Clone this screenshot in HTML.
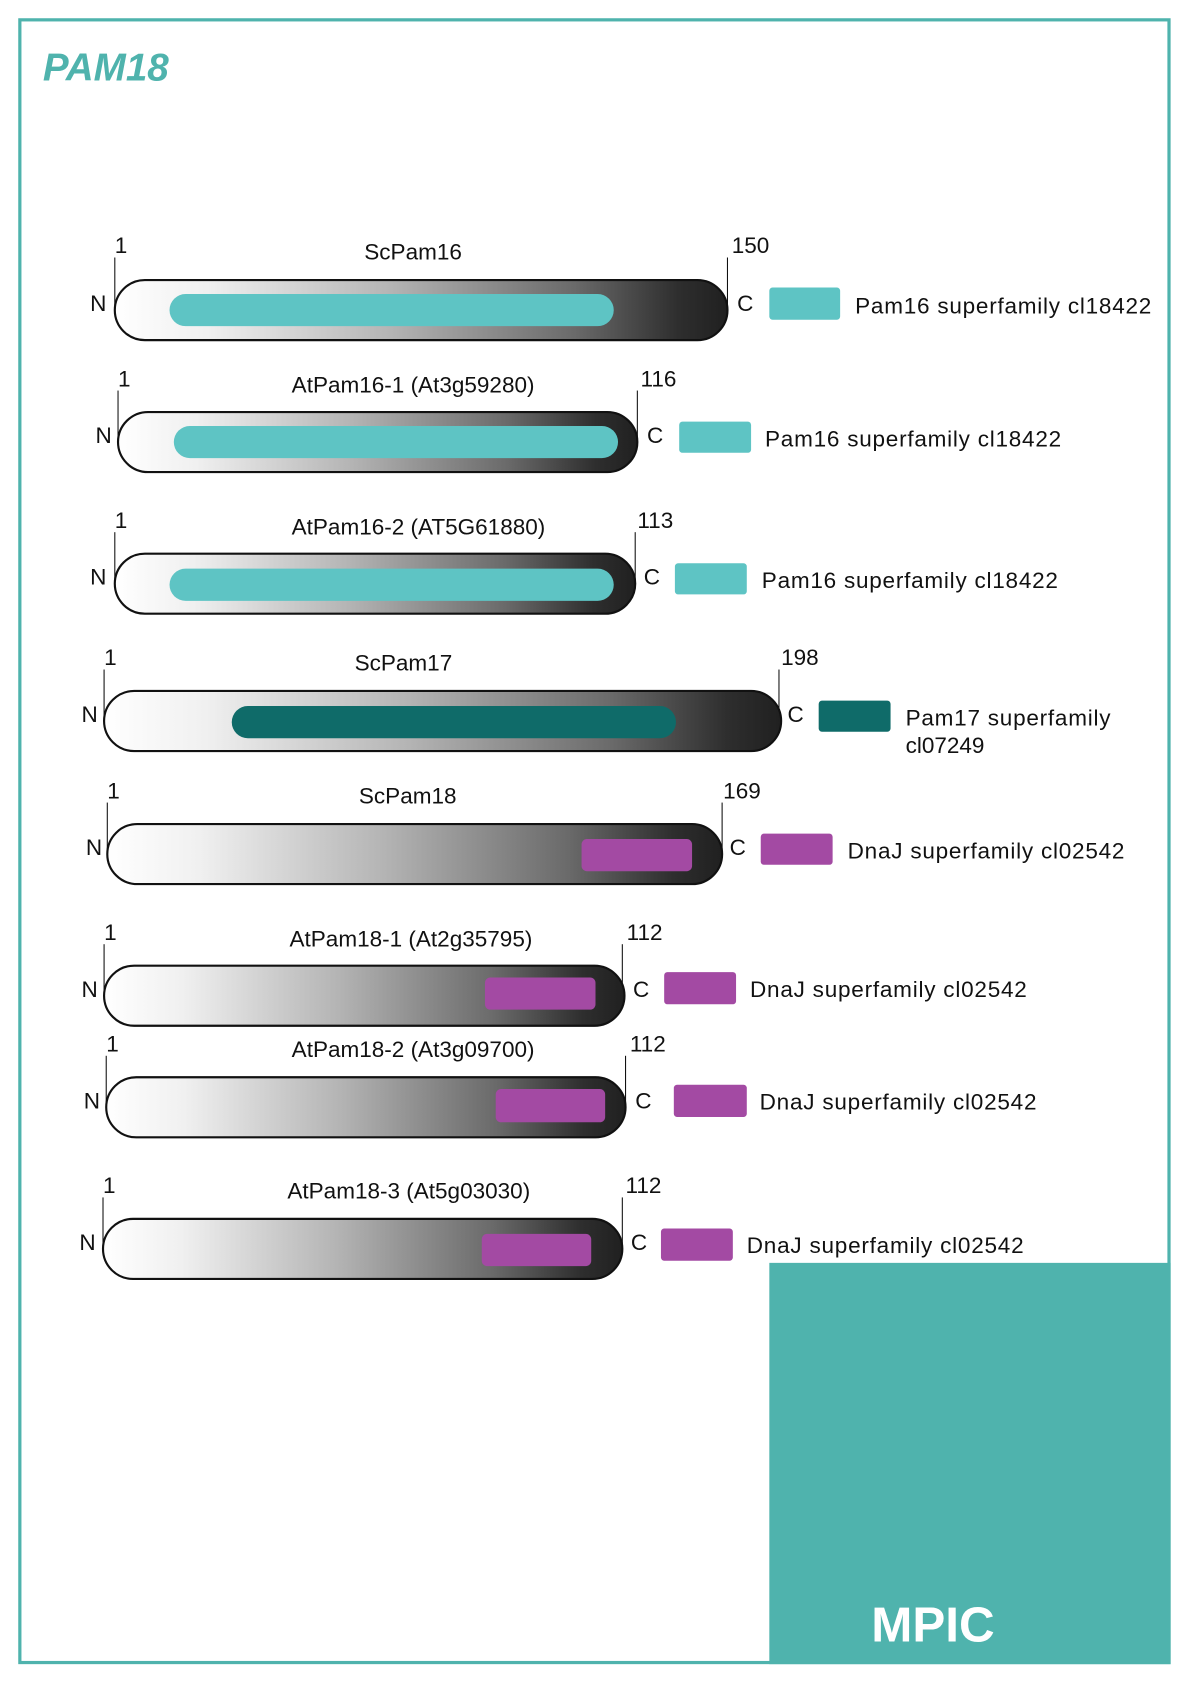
<!DOCTYPE html>
<html><head><meta charset="utf-8"><style>
html,body{margin:0;padding:0;background:#fff;}
svg{display:block;}
text{font-family:"Liberation Sans",sans-serif;fill:#111;}
</style></head><body>
<svg width="1191" height="1684" viewBox="0 0 1110 1569.5" preserveAspectRatio="none" xmlns="http://www.w3.org/2000/svg">
<defs>
<linearGradient id="g" x1="0" y1="0" x2="1" y2="0">
<stop offset="0" stop-color="#ffffff"/>
<stop offset="0.15" stop-color="#f0f0f0"/>
<stop offset="0.45" stop-color="#b4b4b4"/>
<stop offset="0.75" stop-color="#6a6a6a"/>
<stop offset="0.92" stop-color="#2e2e2e"/>
<stop offset="1" stop-color="#202020"/>
</linearGradient>
</defs>
<rect x="18.5" y="18.5" width="1071" height="1531" fill="none" stroke="#4fb3ad" stroke-width="3"/>
<text x="40" y="75" font-size="36" font-weight="bold" font-style="italic" style="fill:#4fb3ad">PAM18</text>
<rect x="717" y="1177" width="374" height="374" fill="#4fb3ad"/>
<text x="812" y="1530" font-size="46" font-weight="bold" style="fill:#fff">MPIC</text>

<!-- row template -->
<g id="r1">
<line x1="107" y1="240" x2="107" y2="290" stroke="#111"/><line x1="678" y1="240" x2="678" y2="290" stroke="#111"/>
<rect x="107" y="261" width="571" height="56" rx="28" fill="url(#g)" stroke="#111" stroke-width="2"/>
<rect x="158" y="274" width="414" height="30" rx="15" fill="#5ec4c4"/>
<text x="107" y="236" font-size="21">1</text><text x="682" y="236" font-size="21">150</text>
<text x="385" y="242" font-size="21" text-anchor="middle">ScPam16</text>
<text x="84" y="290" font-size="21">N</text><text x="687" y="290" font-size="21">C</text>
<rect x="717" y="268" width="66" height="30" rx="3" fill="#5ec4c4"/>
<text x="797" y="292" font-size="21" textLength="276">Pam16 superfamily cl18422</text>
</g>

<g>
<line x1="110" y1="364" x2="110" y2="413" stroke="#111"/><line x1="594" y1="364" x2="594" y2="413" stroke="#111"/>
<rect x="110" y="384" width="484" height="56" rx="28" fill="url(#g)" stroke="#111" stroke-width="2"/>
<rect x="162" y="397" width="414" height="30" rx="15" fill="#5ec4c4"/>
<text x="110" y="360" font-size="21">1</text><text x="597" y="360" font-size="21">116</text>
<text x="385" y="366" font-size="21" text-anchor="middle">AtPam16-1 (At3g59280)</text>
<text x="89" y="413" font-size="21">N</text><text x="603" y="413" font-size="21">C</text>
<rect x="633" y="393" width="67" height="29" rx="3" fill="#5ec4c4"/>
<text x="713" y="416" font-size="21" textLength="276">Pam16 superfamily cl18422</text>
</g>

<g>
<line x1="107" y1="496" x2="107" y2="545" stroke="#111"/><line x1="592" y1="496" x2="592" y2="545" stroke="#111"/>
<rect x="107" y="516" width="485" height="56" rx="28" fill="url(#g)" stroke="#111" stroke-width="2"/>
<rect x="158" y="530" width="414" height="30" rx="15" fill="#5ec4c4"/>
<text x="107" y="492" font-size="21">1</text><text x="594" y="492" font-size="21">113</text>
<text x="390" y="498" font-size="21" text-anchor="middle">AtPam16-2 (AT5G61880)</text>
<text x="84" y="545" font-size="21">N</text><text x="600" y="545" font-size="21">C</text>
<rect x="629" y="525" width="67" height="29" rx="3" fill="#5ec4c4"/>
<text x="710" y="548" font-size="21" textLength="276">Pam16 superfamily cl18422</text>
</g>

<g>
<line x1="97" y1="624" x2="97" y2="673" stroke="#111"/><line x1="726" y1="624" x2="726" y2="673" stroke="#111"/>
<rect x="97" y="644" width="631" height="56" rx="28" fill="url(#g)" stroke="#111" stroke-width="2"/>
<rect x="216" y="658" width="414" height="30" rx="15" fill="#0f6b69"/>
<text x="97" y="620" font-size="21">1</text><text x="728" y="620" font-size="21">198</text>
<text x="376" y="625" font-size="21" text-anchor="middle">ScPam17</text>
<text x="76" y="673" font-size="21">N</text><text x="734" y="673" font-size="21">C</text>
<rect x="763" y="653" width="67" height="29" rx="3" fill="#0f6b69"/>
<text x="844" y="676" font-size="21" textLength="191">Pam17 superfamily</text>
<text x="844" y="702" font-size="21">cl07249</text>
</g>

<g>
<line x1="100" y1="748" x2="100" y2="797" stroke="#111"/><line x1="673" y1="748" x2="673" y2="797" stroke="#111"/>
<rect x="100" y="768" width="573" height="56" rx="28" fill="url(#g)" stroke="#111" stroke-width="2"/>
<rect x="542" y="782" width="103" height="30" rx="5" fill="#a34aa3"/>
<text x="100" y="744" font-size="21">1</text><text x="674" y="744" font-size="21">169</text>
<text x="380" y="749" font-size="21" text-anchor="middle">ScPam18</text>
<text x="80" y="797" font-size="21">N</text><text x="680" y="797" font-size="21">C</text>
<rect x="709" y="777" width="67" height="29" rx="3" fill="#a34aa3"/>
<text x="790" y="800" font-size="21" textLength="258">DnaJ superfamily cl02542</text>
</g>

<g>
<line x1="97" y1="880" x2="97" y2="929" stroke="#111"/><line x1="580" y1="880" x2="580" y2="929" stroke="#111"/>
<rect x="97" y="900" width="485" height="56" rx="28" fill="url(#g)" stroke="#111" stroke-width="2"/>
<rect x="452" y="911" width="103" height="30" rx="5" fill="#a34aa3"/>
<text x="97" y="876" font-size="21">1</text><text x="584" y="876" font-size="21">112</text>
<text x="383" y="882" font-size="21" text-anchor="middle">AtPam18-1 (At2g35795)</text>
<text x="76" y="929" font-size="21">N</text><text x="590" y="929" font-size="21">C</text>
<rect x="619" y="906" width="67" height="30" rx="3" fill="#a34aa3"/>
<text x="699" y="929" font-size="21" textLength="258">DnaJ superfamily cl02542</text>
</g>

<g>
<line x1="99" y1="984" x2="99" y2="1033" stroke="#111"/><line x1="583" y1="984" x2="583" y2="1033" stroke="#111"/>
<rect x="99" y="1004" width="484" height="56" rx="28" fill="url(#g)" stroke="#111" stroke-width="2"/>
<rect x="462" y="1015" width="102" height="31" rx="5" fill="#a34aa3"/>
<text x="99" y="980" font-size="21">1</text><text x="587" y="980" font-size="21">112</text>
<text x="385" y="985" font-size="21" text-anchor="middle">AtPam18-2 (At3g09700)</text>
<text x="78" y="1033" font-size="21">N</text><text x="592" y="1033" font-size="21">C</text>
<rect x="628" y="1011" width="68" height="30" rx="3" fill="#a34aa3"/>
<text x="708" y="1034" font-size="21" textLength="258">DnaJ superfamily cl02542</text>
</g>

<g>
<line x1="96" y1="1116" x2="96" y2="1165" stroke="#111"/><line x1="580" y1="1116" x2="580" y2="1165" stroke="#111"/>
<rect x="96" y="1136" width="484" height="56" rx="28" fill="url(#g)" stroke="#111" stroke-width="2"/>
<rect x="449" y="1150" width="102" height="30" rx="5" fill="#a34aa3"/>
<text x="96" y="1112" font-size="21">1</text><text x="583" y="1112" font-size="21">112</text>
<text x="381" y="1117" font-size="21" text-anchor="middle">AtPam18-3 (At5g03030)</text>
<text x="74" y="1165" font-size="21">N</text><text x="588" y="1165" font-size="21">C</text>
<rect x="616" y="1145" width="67" height="30" rx="3" fill="#a34aa3"/>
<text x="696" y="1168" font-size="21" textLength="258">DnaJ superfamily cl02542</text>
</g>
</svg>
</body></html>
